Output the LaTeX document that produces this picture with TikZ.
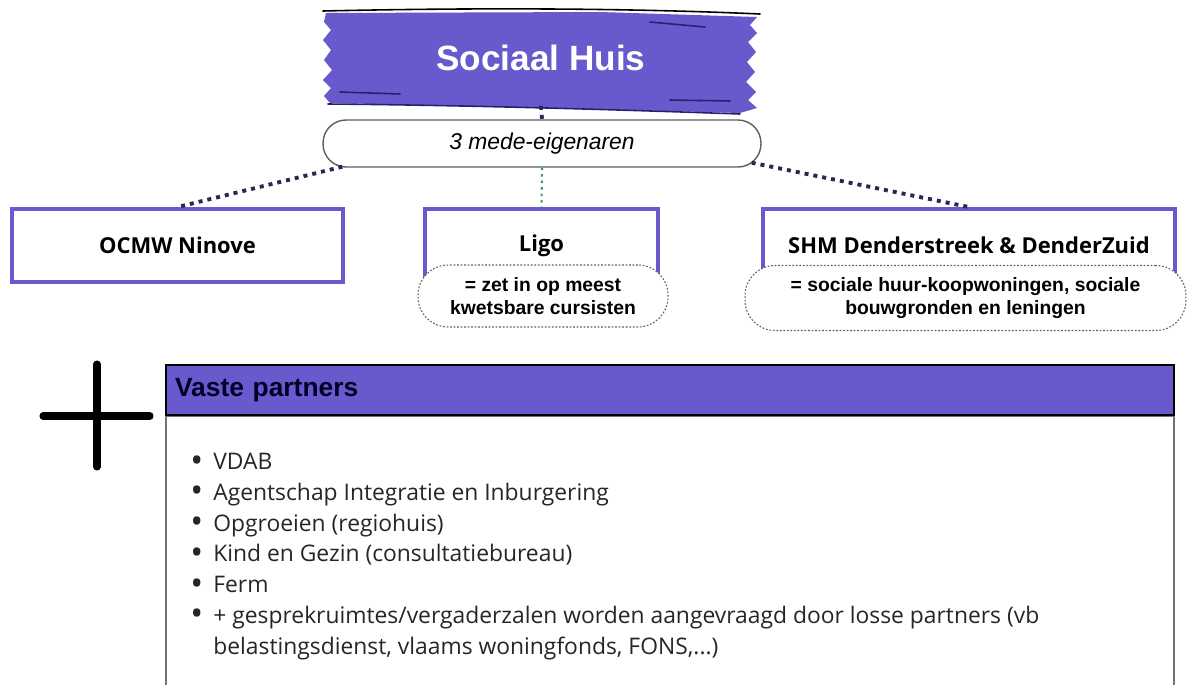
\documentclass[tikz,border=0pt]{standalone}
\usepackage{fontspec}
\setmainfont{Open Sans}
\newfontfamily\arialfont{Liberation Sans}
\usetikzlibrary{calc,positioning}

\definecolor{brush}{RGB}{104,90,205}
\definecolor{brushdark}{RGB}{40,32,110}
\definecolor{linkblue}{RGB}{40,40,88}
\definecolor{linkgreen}{RGB}{70,150,90}
\definecolor{inkgray}{RGB}{95,95,95}

\newcommand\listdot{\makebox[0.46cm][l]{\raisebox{-0.1em}{\scalebox{1.5}{\textbullet}}}}

\begin{document}
\begin{tikzpicture}[
  x=0.02cm,y=-0.02cm,
  every node/.style={inner sep=0pt},
  partnerbox/.style={draw=brush,line width=2.2pt,fill=white,
                     minimum width=#1,minimum height=1.46cm,
                     font=\bfseries\fontsize{12.5}{15}\selectfont},
  notebubble/.style={draw=inkgray,line width=0.6pt,dash pattern=on 1pt off 1pt,
                     fill=white,rounded corners=0.6cm,align=center,
                     font=\arialfont\bfseries\fontsize{11}{13.4}\selectfont},
  pill/.style={draw=inkgray,line width=0.8pt,fill=white,rounded corners=0.46cm,
               minimum width=8.76cm,minimum height=0.94cm,
               font=\arialfont\itshape\fontsize{13}{15}\selectfont},
  ownerlink/.style={draw=linkblue,line width=2.2pt,dash pattern=on 0.08cm off 0.1cm},
  ligolink/.style={draw=linkgreen,line width=1.2pt,dash pattern=on 0.05cm off 0.08cm},
  brushline/.style={draw=brushdark,line width=0.9pt,line cap=round},
  plusbar/.style={line width=4pt,line cap=round},
  header/.style={draw=black,line width=1.2pt,fill=brush,minimum width=20.16cm,
                 minimum height=1.0cm,text width=19.8cm,align=left,
                 text=black!85!blue,font=\arialfont\bfseries\fontsize{15}{18}\selectfont},
  bodybox/.style={draw=black!55,line width=0.8pt,fill=white,
                  minimum width=20.16cm,minimum height=6cm}
]
\fill[white] (0,0) rectangle (1187,684);
\useasboundingbox (0,0) rectangle (1187,684);

% brush banner
\fill[brush] (326,13) -- (600,12) -- (757,17) -- (750,25) -- (757,33) -- (748,42)
  -- (756,52) -- (747,62) -- (755,72) -- (746,82) -- (756,92) -- (748,100)
  -- (757,108) -- (740,113) -- (560,108) -- (330,103) -- (324,96) -- (331,88)
  -- (323,80) -- (332,70) -- (324,60) -- (331,50) -- (323,40) -- (331,30)
  -- (324,22) -- cycle;
\draw[brushline,draw=black] (323,11) .. controls (500,7) and (650,9) .. (760,14);
\draw[brushline] (328,104) .. controls (450,105) and (600,109) .. (740,114);
\draw[brushline] (340,92) -- (400,94);
\draw[brushline] (650,22) -- (705,27);
\draw[brushline] (670,100) -- (730,101);
\node[font=\arialfont\bfseries\fontsize{20}{24}\selectfont,text=white,
      minimum width=8.7cm,minimum height=1.9cm] (title) at (541,58) {Sociaal Huis};

% owners
\node[pill] (owners) at (542,143.5) {3 mede-eigenaren};
\draw[ownerlink] (title.south) -- (owners.north);

\node[partnerbox=6.62cm] (ocmw) at (177.5,245.5) {OCMW Ninove};
\node[partnerbox=4.66cm] (ligo) at (541.5,245.5) {Ligo};
\node[partnerbox=8.24cm] (shm)  at (969,245.5)   {SHM Denderstreek \& DenderZuid};

\draw[ownerlink] ($(owners.south west)+(20,-1)$) -- (ocmw.north);
\draw[ownerlink] ($(owners.south east)+(-10,-5)$) -- (shm.north);
\draw[ligolink]  (owners.south) -- (ligo.north);

\node[notebubble,minimum width=5.0cm,minimum height=1.24cm] (ligonote) at (543,296)
  {= zet in op meest\\kwetsbare cursisten};
\node[notebubble,minimum width=8.82cm,minimum height=1.3cm] (shmnote) at (965.5,298)
  {= sociale huur-koopwoningen, sociale\\bouwgronden en leningen};

% plus sign
\draw[plusbar] (97,364) -- (97,467);
\draw[plusbar] (43,416) -- (150,416);

% vaste partners
\node[bodybox,anchor=north] (partnerbody) at (670,416) {};
\node[header,above=0pt of partnerbody] (partners) {Vaste partners};
\node[anchor=north west,align=left,text=black!85,
      font=\fontsize{13}{17.5}\selectfont] (partnerlist) at (190,453)
  {\listdot VDAB\\
   \listdot Agentschap Integratie en Inburgering\\
   \listdot Opgroeien (regiohuis)\\
   \listdot Kind en Gezin (consultatiebureau)\\
   \listdot Ferm\\
   \listdot + gesprekruimtes/vergaderzalen worden aangevraagd door losse partners (vb\\
   \hspace*{0.46cm}belastingsdienst, vlaams woningfonds, FONS,...)};
\end{tikzpicture}
\end{document}
